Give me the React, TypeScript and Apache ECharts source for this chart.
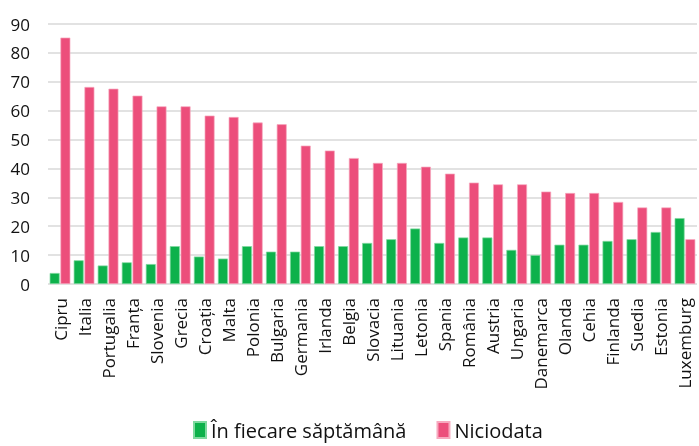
import React, { useEffect, useRef } from "react";
import * as echarts from "echarts";

const categories = ["Cipru","Italia","Portugalia","Franța","Slovenia","Grecia","Croația","Malta","Polonia","Bulgaria","Germania","Irlanda","Belgia","Slovacia","Lituania","Letonia","Spania","România","Austria","Ungaria","Danemarca","Olanda","Cehia","Finlanda","Suedia","Estonia","Luxemburg"];
const weekly = [3.8,8.2,6.4,7.5,6.9,13.1,9.5,8.8,13.1,11.2,11.2,13.1,13.1,14.2,15.5,19.2,14.2,16.1,16.1,11.8,10.0,13.6,13.6,14.9,15.5,18.0,22.8];
const never = [85.3,68.2,67.6,65.2,61.5,61.5,58.3,57.8,55.9,55.3,47.9,46.2,43.6,41.9,41.9,40.6,38.2,35.1,34.5,34.5,32.0,31.5,31.5,28.4,26.5,26.5,15.5];
const seriesNames = ["În fiecare săptămână", "Niciodata"];

export default function App() {
  const ref = useRef<HTMLDivElement>(null);
  useEffect(() => {
    const chart = echarts.init(ref.current!, null, { renderer: "svg" });
    const font = "'Open Sans', 'Noto Sans', sans-serif";
    const narrow = "'Liberation Sans Narrow', 'Open Sans', sans-serif";
    chart.setOption({
      animation: false,
      grid: { left: 48, right: 2, top: 24, bottom: 162 },
      legend: {
        bottom: 1,
        left: 188,
        itemWidth: 12,
        itemHeight: 16,
        itemGap: 30,
        icon: "rect",
        textStyle: { fontFamily: narrow, fontSize: 20, color: "#111" },
        data: seriesNames,
      },
      xAxis: {
        type: "category",
        data: categories,
        axisLine: { show: false },
        axisTick: { show: false },
        axisLabel: { rotate: 90, interval: 0, fontFamily: font, fontSize: 17, color: "#111", margin: 14 },
      },
      yAxis: {
        type: "value",
        min: 0,
        max: 90,
        interval: 10,
        axisLine: { show: false },
        axisTick: { show: false },
        splitLine: { lineStyle: { color: "#d9d9d9", width: 1.5 } },
        axisLabel: { fontFamily: font, fontSize: 17, color: "#111", margin: 18 },
      },
      series: [
        {
          name: seriesNames[0],
          type: "bar",
          data: weekly,
          barGap: "8%",
          barCategoryGap: "14%",
          itemStyle: { color: "#0db14b", borderColor: "#7fd99f", borderWidth: 0.7 },
        },
        {
          name: seriesNames[1],
          type: "bar",
          data: never,
          itemStyle: { color: "#ec4e7b", borderColor: "#f7a9bf", borderWidth: 0.7 },
        },
      ],
    });
    return () => chart.dispose();
  }, []);
  return <div ref={ref} style={{ position: "fixed", left: 0, top: 0, width: 699, height: 446 }} />;
}
